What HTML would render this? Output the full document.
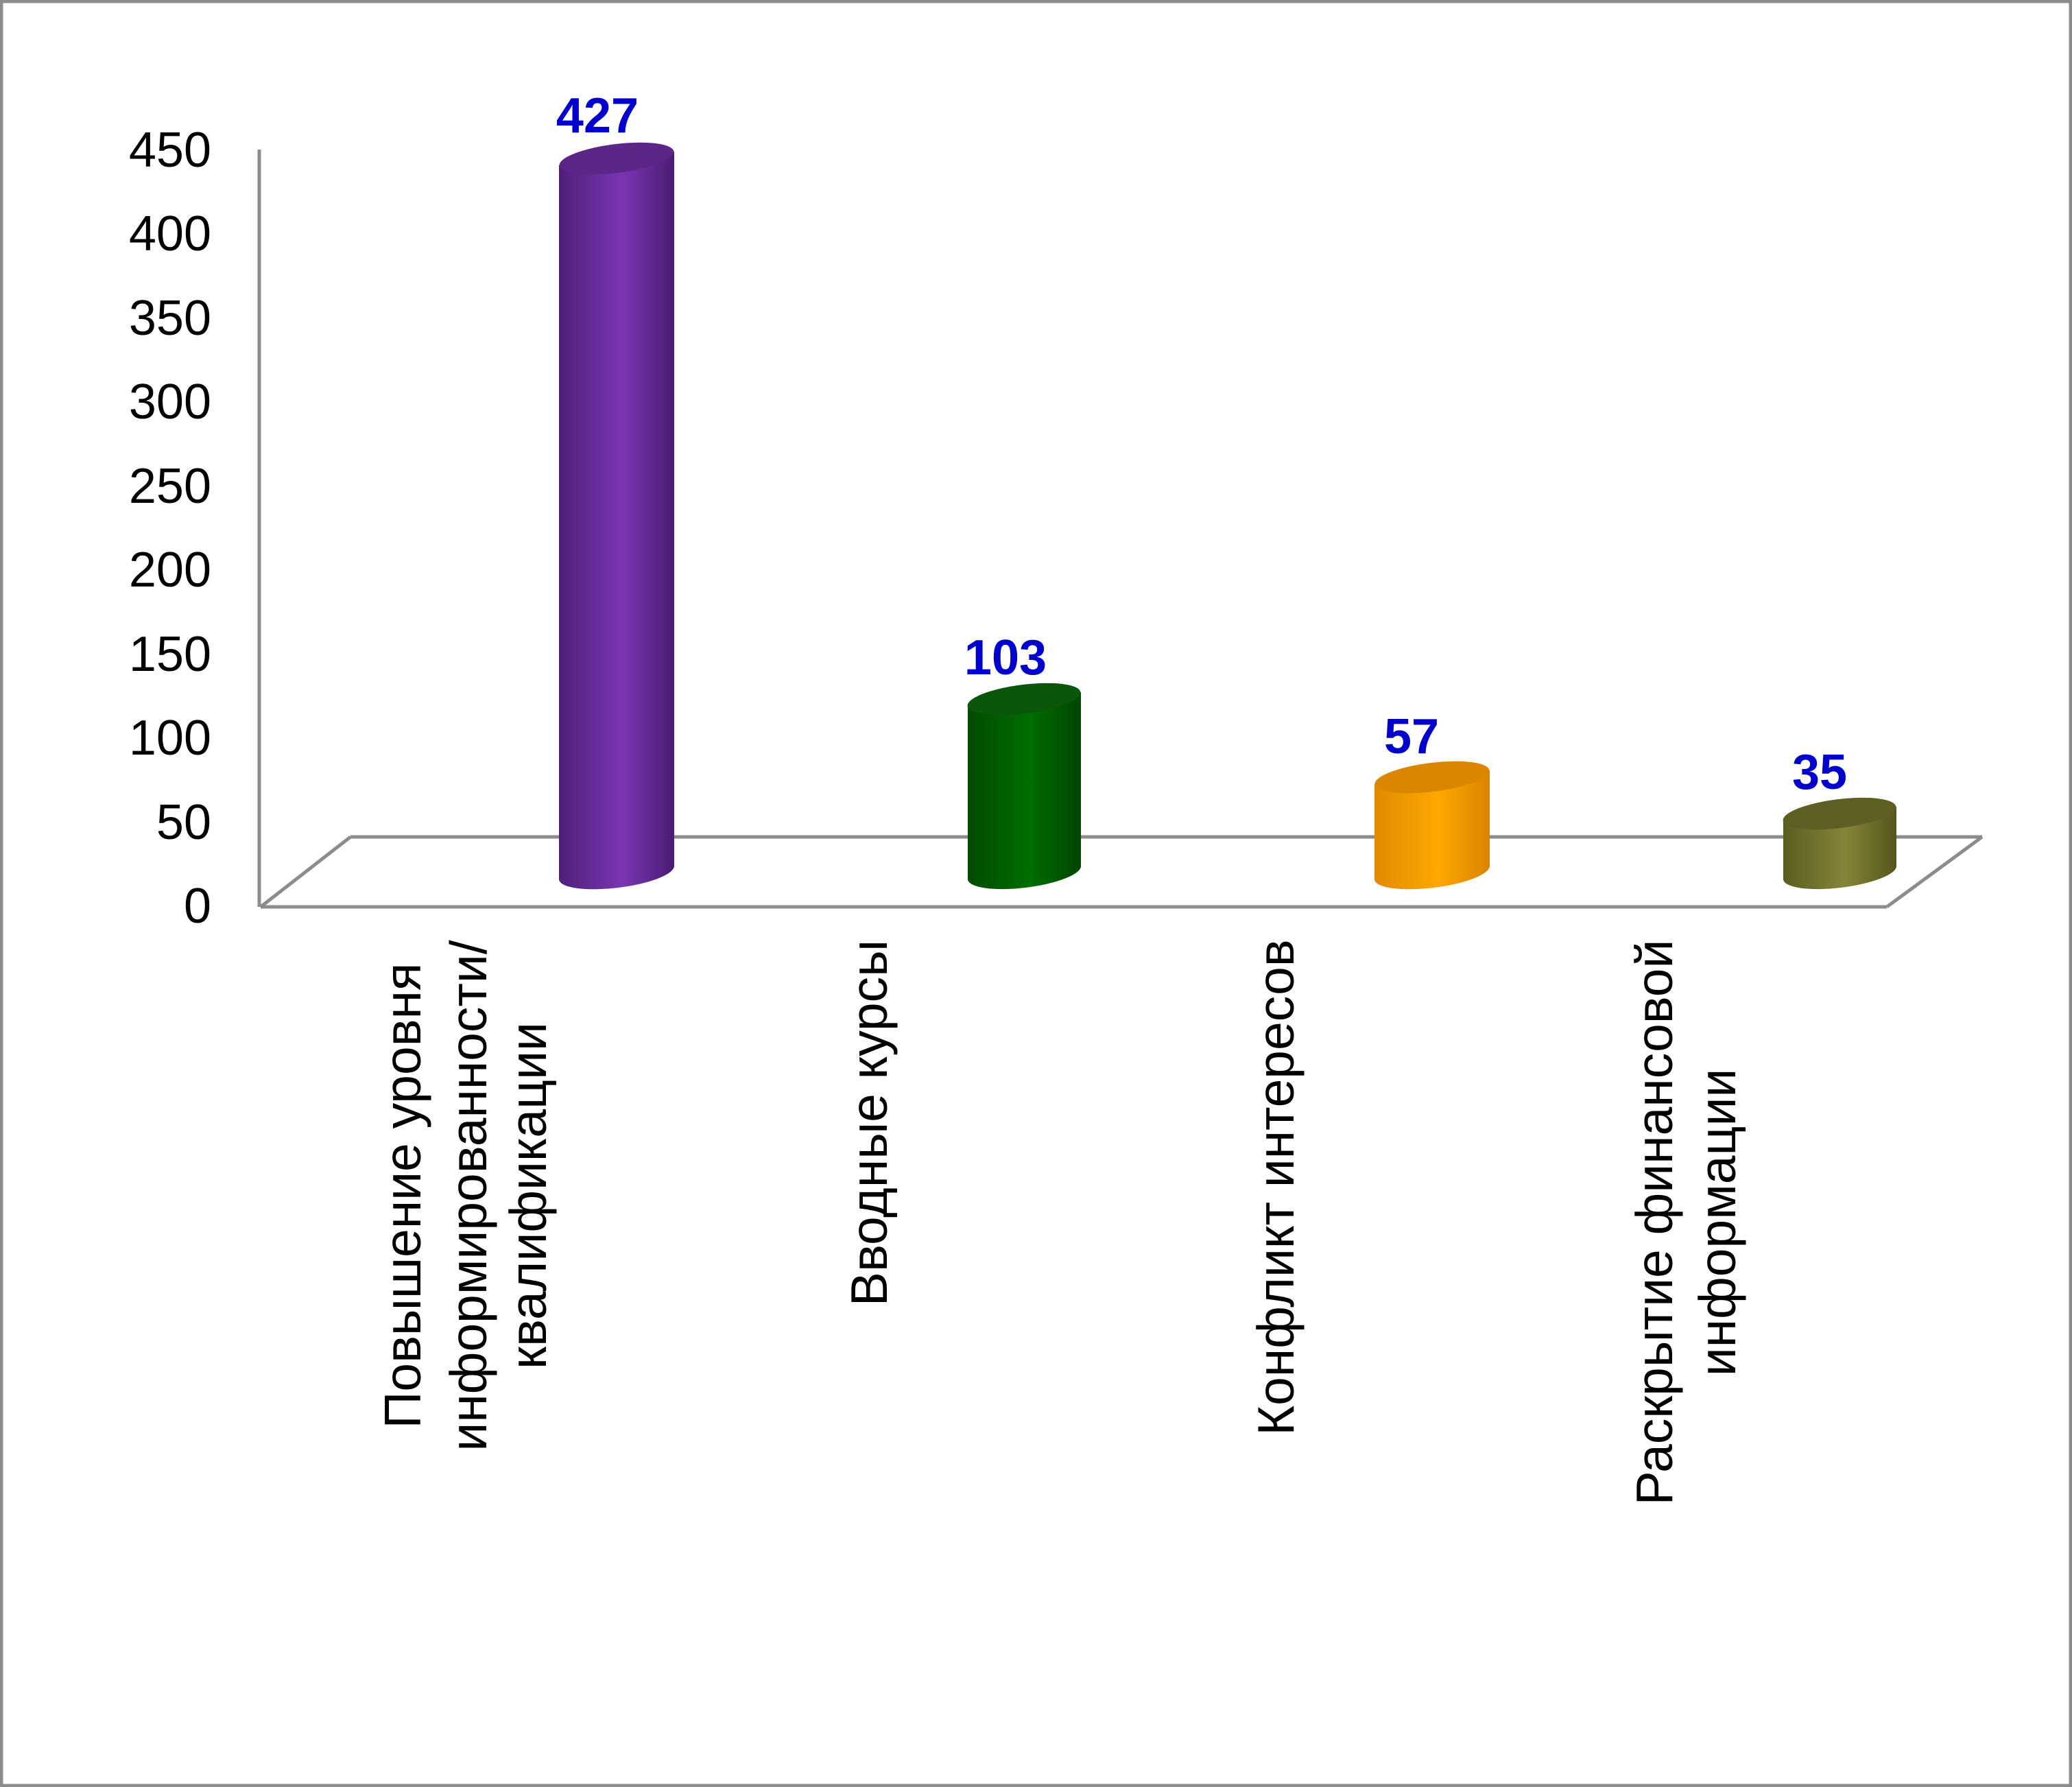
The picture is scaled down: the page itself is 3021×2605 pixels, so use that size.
<!DOCTYPE html>
<html><head><meta charset="utf-8"><style>
html,body{margin:0;padding:0;background:#fff}
svg{display:block}
text{font-family:"Liberation Sans",Arial,sans-serif}
</style></head><body>
<svg width="3021" height="2605" viewBox="0 0 3021 2605" xmlns="http://www.w3.org/2000/svg">
<defs>
<linearGradient id="gp" x1="0" x2="1" y1="0" y2="0"><stop offset="0" stop-color="#4f1f7a"/><stop offset="0.55" stop-color="#7b35b2"/><stop offset="1" stop-color="#4a1d73"/></linearGradient>
<linearGradient id="gg" x1="0" x2="1" y1="0" y2="0"><stop offset="0" stop-color="#004a00"/><stop offset="0.55" stop-color="#006e00"/><stop offset="1" stop-color="#004400"/></linearGradient>
<linearGradient id="go" x1="0" x2="1" y1="0" y2="0"><stop offset="0" stop-color="#e08a00"/><stop offset="0.55" stop-color="#ffa800"/><stop offset="1" stop-color="#d98400"/></linearGradient>
<linearGradient id="gl" x1="0" x2="1" y1="0" y2="0"><stop offset="0" stop-color="#5c5c22"/><stop offset="0.55" stop-color="#858538"/><stop offset="1" stop-color="#55551f"/></linearGradient>
</defs>
<rect x="2" y="2" width="3017" height="2601" fill="#fff" stroke="#8c8c8c" stroke-width="5"/>
<g stroke="#8c8c8c" stroke-width="5" fill="none">
<line x1="378" y1="218" x2="378" y2="1322"/>
<line x1="511" y1="1220" x2="2890" y2="1220"/>
<line x1="380" y1="1322" x2="2751" y2="1322"/>
<line x1="380" y1="1322" x2="511" y2="1220"/>
<line x1="2751" y1="1322" x2="2890" y2="1220"/>
</g>
<g font-size="72" text-anchor="end" fill="#000">
<text x="308" y="243">450</text><text x="308" y="365">400</text><text x="308" y="488">350</text><text x="308" y="610">300</text><text x="308" y="733">250</text><text x="308" y="855">200</text><text x="308" y="978">150</text><text x="308" y="1100">100</text><text x="308" y="1223">50</text><text x="308" y="1345">0</text>
</g>
<g>
<path d="M815,241 L815,1282 A84,22 -7 0 0 983,1262 L983,221 Z" fill="url(#gp)"/>
<ellipse cx="899" cy="231" rx="84" ry="21" transform="rotate(-7 899 231)" fill="#5b2688"/>
<path d="M1411,1029 L1411,1282 A83,22 -7 0 0 1576,1262 L1576,1009 Z" fill="url(#gg)"/>
<ellipse cx="1493" cy="1019" rx="83" ry="21" transform="rotate(-7 1493 1019)" fill="#0a560a"/>
<path d="M2004,1143 L2004,1282 A84,22 -7 0 0 2172,1262 L2172,1123 Z" fill="url(#go)"/>
<ellipse cx="2088" cy="1133" rx="84" ry="21" transform="rotate(-7 2088 1133)" fill="#d98600"/>
<path d="M2600,1196 L2600,1282 A83,22 -7 0 0 2765,1262 L2765,1176 Z" fill="url(#gl)"/>
<ellipse cx="2682" cy="1186" rx="83" ry="21" transform="rotate(-7 2682 1186)" fill="#5e5e25"/>
</g>
<g font-size="72" font-weight="bold" fill="#0000cc" text-anchor="middle">
<text x="871" y="193">427</text><text x="1466" y="983">103</text><text x="2058" y="1098">57</text><text x="2653" y="1150">35</text>
</g>
<g font-size="75" fill="#000" text-anchor="middle">
<text transform="translate(613 1743) rotate(-90)">Повышение уровня</text>
<text transform="translate(709 1743) rotate(-90)">информированности/</text>
<text transform="translate(796 1743) rotate(-90)">квалификации</text>
<text transform="translate(1293 1637) rotate(-90)">Вводные курсы</text>
<text transform="translate(1886 1731) rotate(-90)">Конфликт интересов</text>
<text transform="translate(2438 1782) rotate(-90)">Раскрытие финансовой</text>
<text transform="translate(2530 1782) rotate(-90)">информации</text>
</g>
</svg>
</body></html>
